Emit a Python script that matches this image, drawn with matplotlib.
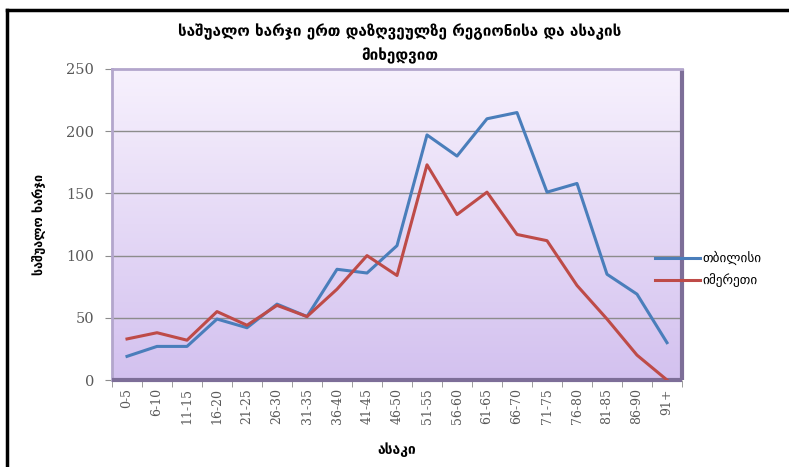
import numpy as np
import matplotlib
matplotlib.use("Agg")
import matplotlib.pyplot as plt
from matplotlib.lines import Line2D
from matplotlib.colors import LinearSegmentedColormap

plt.rcParams['font.family'] = ['DejaVu Sans']

ages = ["0-5", "6-10", "11-15", "16-20", "21-25", "26-30", "31-35", "36-40",
        "41-45", "46-50", "51-55", "56-60", "61-65", "66-70", "71-75", "76-80",
        "81-85", "86-90", "91+"]
tbilisi = [19, 27, 27, 49, 42, 61, 51, 89, 86, 108, 197, 180, 210, 215, 151, 158, 85, 69, 30]
imereti = [33, 38, 32, 55, 44, 60, 51, 73, 100, 84, 173, 133, 151, 117, 112, 76, 49, 20, 0]

title = "საშუალო ხარჯი ერთ დაზღვეულზე რეგიონისა და ასაკის\nმიხედვით"
ylabel = "საშუალო ხარჯი"
xlabel = "ასაკი"
series_names = ["თბილისი", "იმერეთი"]

W, H = 789, 467
fig = plt.figure(figsize=(W / 100, H / 100), dpi=100)
fig.patch.set_facecolor("white")

# plot area in pixels: x 112..682, y 69..380 (value 0)
ax = fig.add_axes([112 / W, 1 - 380 / H, (682 - 112) / W, (380 - 69) / H])

x = np.arange(len(ages))
ax.set_xlim(-0.5, len(ages) - 0.5)
ax.set_ylim(0, 250)

# purple gradient background
cmap = LinearSegmentedColormap.from_list("bg", ["#f7f1fd", "#d3c1ef"])
grad = np.linspace(0, 1, 256).reshape(-1, 1)
ax.imshow(grad, extent=(-0.5, len(ages) - 0.5, 0, 250), aspect="auto",
          cmap=cmap, origin="upper", zorder=0)

for v in [50, 100, 150, 200]:
    ax.axhline(v, color="#8c8c8c", lw=1.0, zorder=1)

ax.plot(x, tbilisi, color="#4a7ebb", lw=2.2, label=series_names[0], zorder=3)
ax.plot(x, imereti, color="#be4b48", lw=2.2, label=series_names[1], zorder=3)

for s in ["left", "top"]:
    ax.spines[s].set_color("#b3a6cc")
    ax.spines[s].set_linewidth(2.0)
for s in ["right", "bottom"]:
    ax.spines[s].set_color("#7d6e98")
    ax.spines[s].set_linewidth(3.0)
    ax.spines[s].set_capstyle("butt")

ax.set_yticks([0, 50, 100, 150, 200, 250])
ax.set_yticklabels(["0", "50", "100", "150", "200", "250"],
                   family="DejaVu Serif", color="#595959", fontsize=10.5)
ax.set_xticks(x)
ax.set_xticklabels(ages, rotation=90, family="DejaVu Serif", color="#595959", fontsize=9)
ax.set_xticks(np.arange(len(ages) + 1) - 0.5, minor=True)
ax.tick_params(axis="x", which="major", length=0, pad=6)
ax.tick_params(axis="x", which="minor", length=5, color="#8c8c8c")
ax.tick_params(axis="y", length=5, color="#8c8c8c", pad=8)

ax.set_xlabel(xlabel, fontsize=10, fontweight="bold", labelpad=13)
ax.set_ylabel(ylabel, fontsize=9, fontweight="bold", labelpad=14)

fig.text(400 / W, 1 - 44 / H, title, ha="center", va="center",
         fontsize=11, fontweight="semibold", linespacing=1.6)

leg = fig.legend(loc="upper left", bbox_to_anchor=(650 / W, 1 - 246 / H),
                 frameon=False, fontsize=9.5, handlelength=3.4, handletextpad=0.15,
                 labelspacing=0.6, borderaxespad=0)

# outer frame (left and top)
fig.add_artist(Line2D([7 / W, 7 / W], [0, 1 - 10 / H], color="black", lw=2.5,
                      transform=fig.transFigure))
fig.add_artist(Line2D([7 / W, 1], [1 - 10 / H, 1 - 10 / H], color="black", lw=2.5,
                      transform=fig.transFigure))

fig.savefig("out.png", dpi=100)
